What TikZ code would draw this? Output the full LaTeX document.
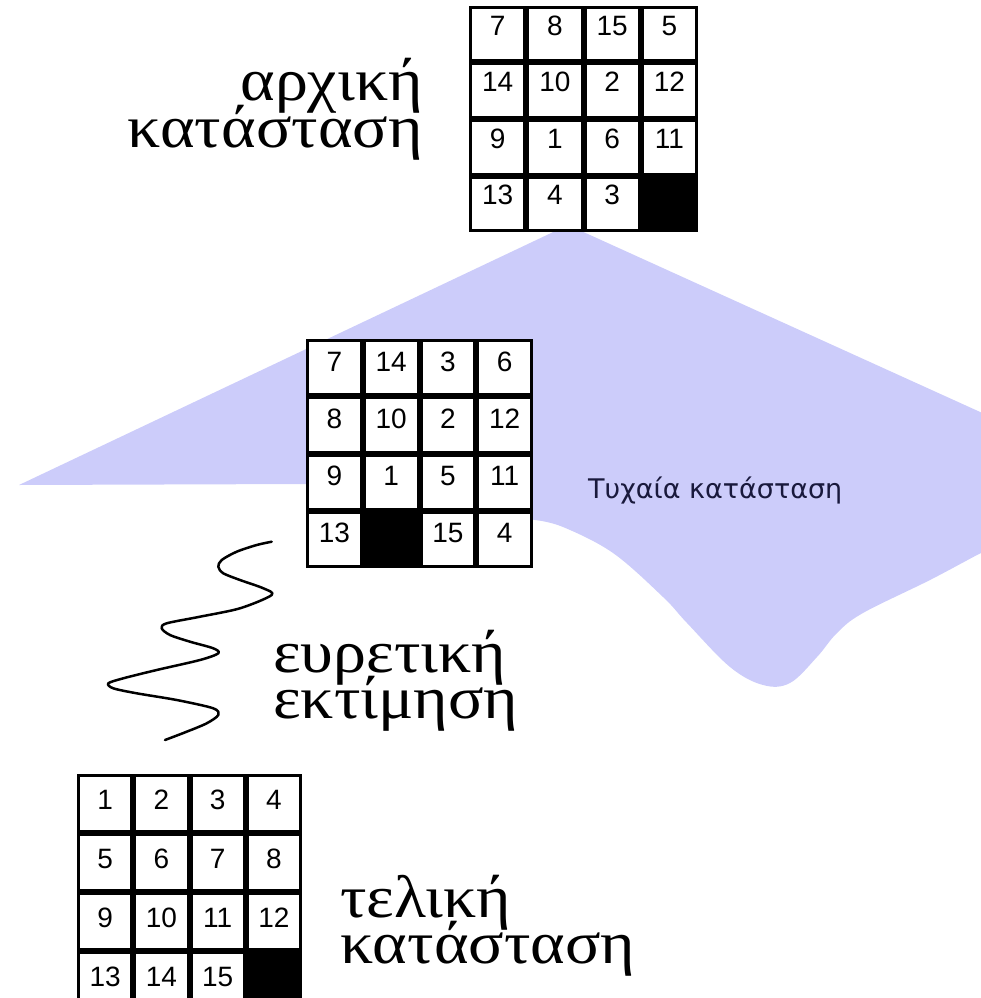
\documentclass[tikz,border=0pt]{standalone}
\usepackage{fontspec}
\setmainfont{Liberation Serif}
\newfontfamily\grkfont{Liberation Serif}
\newfontfamily\digitfont{Liberation Sans}
\newfontfamily\smallfont{DejaVu Sans}
\definecolor{lav}{RGB}{204,204,250}
\definecolor{navy}{RGB}{25,25,60}
\tikzset{
  frame/.style={fill=black, draw=none, inner sep=0pt, anchor=north west},
  tile/.style={fill=white, draw=none, inner sep=0pt, font=\digitfont\fontsize{28}{28}\selectfont},
  bigtext/.style={inner sep=0pt, font=\grkfont\fontsize{60}{46}\selectfont},
  smalltext/.style={inner sep=0pt, text=navy, font=\smallfont\fontsize{27}{27}\selectfont},
  wave/.style={line width=2.5pt, line join=round, line cap=round},
}
\newcommand\wide[1]{\scalebox{1.1}[1]{#1}}
% #1 name, #2 x0, #3 y0, #4 W, #5 H, #6 blank index, #7 raise, #8 list
\newcommand\drawpuzzle[8]{%
  \node[frame, minimum width=#4pt, minimum height=#5pt] (#1) at (#2,#3) {};
  \pgfmathsetmacro\tw{(#4-24)/4}
  \pgfmathsetmacro\tht{(#5-24)/4}
  \pgfmathsetmacro\txh{19-#7}
  \pgfmathsetmacro\txd{#7-1}
  \foreach \v [count=\i from 0] in {#8} {
    \pgfmathtruncatemacro\cc{mod(\i,4)}
    \pgfmathtruncatemacro\rr{div(\i,4)}
    \pgfmathsetmacro\xx{#2+3+\cc*(\tw+6)+\tw/2}
    \pgfmathsetmacro\yy{#3+3+\rr*(\tht+6)+\tht/2}
    \ifnum\i=#6\relax
      \node[tile, fill=black, minimum width=\tw pt, minimum height=\tht pt] (#1-\i) at (\xx,\yy) {};
    \else
      \node[tile, minimum width=\tw pt, minimum height=\tht pt, text height=\txh pt, text depth=\txd pt] (#1-\i) at (\xx,\yy) {\v};
    \fi
  }
}
\begin{document}
\begin{tikzpicture}[x=1pt,y=-1pt]
\useasboundingbox (0,0) rectangle (981,998);
\begin{scope}
\clip (0,0) rectangle (981,998);
% random-state region
\fill[lav] (568,225) -- (19,485) -- (306,484) -- (535,520)
  -- plot[smooth, tension=0.6] coordinates {(535,520) (563,527) (613,553) (663,597) (687,623) (730,667) (763,685) (790,683) (817,657) (837,633) (863,613) (930,580) (981,553) (1000,545)}
  -- (1000,421) -- cycle;
% heuristic wave
\draw[wave] plot[smooth, tension=0.5] coordinates {(271.7,541.7) (256.7,545) (236.7,551.7) (221.7,560) (218.3,566.7) (223.3,573.3) (240,580) (263.3,588.3) (271.7,595) (240,608.3) (200,616.7) (166.7,623.3) (161.7,628.3) (170,635) (190,641.7) (213.3,648.3) (218.3,653.3) (200,660) (156.7,670) (123.3,678.3) (108.3,683.3) (113.3,688.3) (136.7,693.3) (176.7,700) (213.3,708.3) (218.3,715) (206.7,723.3) (186.7,731.7) (165,740)};
% puzzles
\drawpuzzle{start}{469}{6}{229}{226}{15}{9}{7,8,15,5,14,10,2,12,9,1,6,11,13,4,3,x}
\drawpuzzle{mid}{306}{339}{227}{229}{13}{6.5}{7,14,3,6,8,10,2,12,9,1,5,11,13,x,15,4}
\drawpuzzle{goal}{77}{774}{225}{236}{15}{4}{1,2,3,4,5,6,7,8,9,10,11,12,13,14,15,x}
% labels
\node[bigtext, anchor=base east] (a1) at (423,100) {\wide{αρχική}};
\node[bigtext, anchor=base east] (a2) at (423,147) {\wide{κατάσταση}};
\node[bigtext, anchor=base west] (h1) at (273,672) {\wide{ευρετική}};
\node[bigtext, anchor=base west] (h2) at (273,718) {\wide{εκτίμηση}};
\node[bigtext, anchor=base west] (g1) at (340,917) {\wide{τελική}};
\node[bigtext, anchor=base west] (g2) at (340,963) {\wide{κατάσταση}};
\node[smalltext, anchor=base west] (rnd) at (588,498) {Τυχαία κατάσταση};
\end{scope}
\end{tikzpicture}
\end{document}
